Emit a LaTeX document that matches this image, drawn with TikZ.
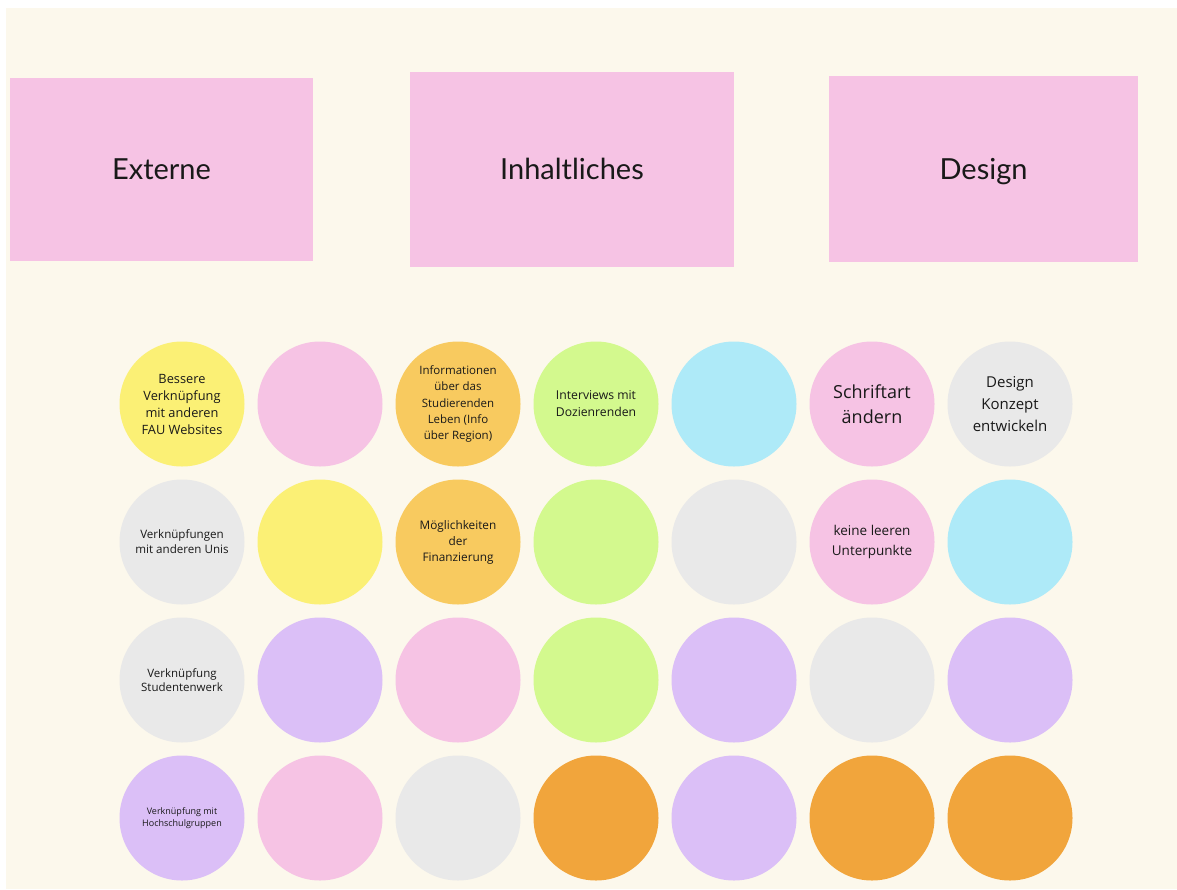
\documentclass[tikz,border=0pt]{standalone}
\usepackage{fontspec}
\setmainfont{Lato}
\newfontfamily\punktfont{Open Sans}
\definecolor{cream}{HTML}{FCF8EC}
\definecolor{rosa}{HTML}{F6C3E4}
\definecolor{gelb}{HTML}{FBF075}
\definecolor{hellorange}{HTML}{F8CA5F}
\definecolor{gruen}{HTML}{D3F98E}
\definecolor{cyan}{HTML}{AEEAF8}
\definecolor{grau}{HTML}{E9E9E9}
\definecolor{lila}{HTML}{DBBFF7}
\definecolor{orange}{HTML}{F1A53C}
\begin{document}
\begin{tikzpicture}[x=1pt, y=-1pt,
        every node/.style={align=center, text=black!90, inner sep=0pt},
        head/.style={fill=rosa, text height=20pt, text depth=0pt, font=\fontsize{29}{32}\selectfont},
        dot/.style={circle, minimum size=125pt}]
            \def \d {138}
            \useasboundingbox (0,0) rectangle (1177,889);
            \fill[white] (0,0) rectangle (1177,889);
            \fill[cream] (6,8) rectangle (1177,889);
            % Kategorien
            \node[head, minimum width=303pt, minimum height=183pt] (externe) at (161.5,169.5) {Externe};
            \node[head, minimum width=324pt, minimum height=195pt] (inhalt) at (572,169.5) {Inhaltliches};
            \node[head, minimum width=309pt, minimum height=186pt] (design) at (983.5,169) {Design};
            % Reihe 1
            \node[dot, fill=gelb, font=\punktfont\fontsize{12.8}{17}\selectfont] (11) at (182+0*\d, 404) {Bessere\\Verknüpfung\\mit anderen\\FAU Websites};
            \node[dot, fill=rosa] (12) at (182+1*\d, 404) {};
            \node[dot, fill=hellorange, font=\punktfont\fontsize{11.5}{16.3}\selectfont] (13) at (182+2*\d, 404) {Informationen\\über das\\Studierenden\\Leben (Info\\über Region)};
            \node[dot, fill=gruen, font=\punktfont\fontsize{12.2}{17}\selectfont] (14) at (182+3*\d, 404) {Interviews mit\\Dozienrenden};
            \node[dot, fill=cyan] (15) at (182+4*\d, 404) {};
            \node[dot, fill=rosa, font=\punktfont\fontsize{18}{25}\selectfont] (16) at (182+5*\d, 404) {Schriftart\\ändern};
            \node[dot, fill=grau, font=\punktfont\fontsize{15}{22}\selectfont] (17) at (182+6*\d, 404) {Design\\Konzept\\entwickeln};
            % Reihe 2
            \node[dot, fill=grau, font=\punktfont\fontsize{11.6}{15}\selectfont] (21) at (182+0*\d, 404+1*\d) {Verknüpfungen\\mit anderen Unis};
            \node[dot, fill=gelb] (22) at (182+1*\d, 404+1*\d) {};
            \node[dot, fill=hellorange, font=\punktfont\fontsize{11.8}{16}\selectfont] (23) at (182+2*\d, 404+1*\d) {Möglichkeiten\\der\\Finanzierung};
            \node[dot, fill=gruen] (24) at (182+3*\d, 404+1*\d) {};
            \node[dot, fill=grau] (25) at (182+4*\d, 404+1*\d) {};
            \node[dot, fill=rosa, font=\punktfont\fontsize{13.5}{20}\selectfont] (26) at (182+5*\d, 404+1*\d) {keine leeren\\Unterpunkte};
            \node[dot, fill=cyan] (27) at (182+6*\d, 404+1*\d) {};
            % Reihe 3
            \node[dot, fill=grau, font=\punktfont\fontsize{11.5}{14}\selectfont] (31) at (182+0*\d, 404+2*\d) {Verknüpfung\\Studentenwerk};
            \node[dot, fill=lila] (32) at (182+1*\d, 404+2*\d) {};
            \node[dot, fill=rosa] (33) at (182+2*\d, 404+2*\d) {};
            \node[dot, fill=gruen] (34) at (182+3*\d, 404+2*\d) {};
            \node[dot, fill=lila] (35) at (182+4*\d, 404+2*\d) {};
            \node[dot, fill=grau] (36) at (182+5*\d, 404+2*\d) {};
            \node[dot, fill=lila] (37) at (182+6*\d, 404+2*\d) {};
            % Reihe 4
            \node[dot, fill=lila, font=\punktfont\fontsize{9}{11.5}\selectfont] (41) at (182+0*\d, 404+3*\d) {Verknüpfung mit\\Hochschulgruppen};
            \node[dot, fill=rosa] (42) at (182+1*\d, 404+3*\d) {};
            \node[dot, fill=grau] (43) at (182+2*\d, 404+3*\d) {};
            \node[dot, fill=orange] (44) at (182+3*\d, 404+3*\d) {};
            \node[dot, fill=lila] (45) at (182+4*\d, 404+3*\d) {};
            \node[dot, fill=orange] (46) at (182+5*\d, 404+3*\d) {};
            \node[dot, fill=orange] (47) at (182+6*\d, 404+3*\d) {};
        \end{tikzpicture}
\end{document}
